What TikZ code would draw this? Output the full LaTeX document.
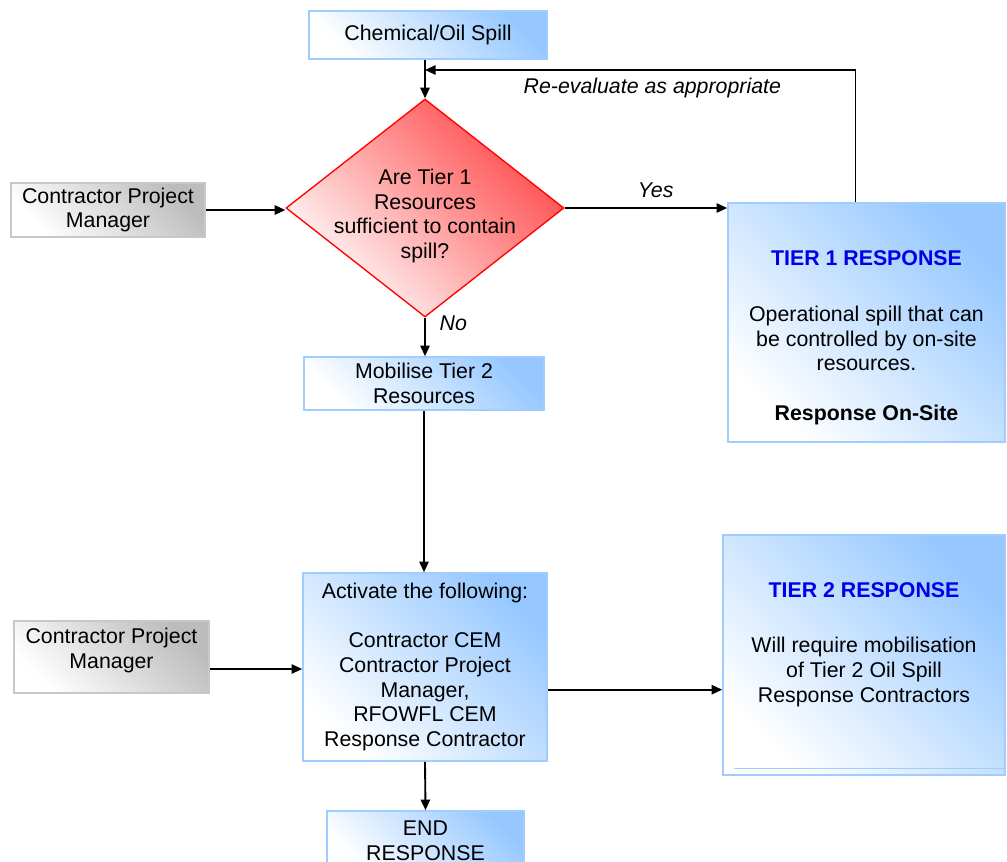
\documentclass[tikz,border=0pt]{standalone}
\usepackage{fontspec}
\setmainfont{Liberation Sans}
\usepackage{tikz}
\usetikzlibrary{positioning,arrows.meta,shapes.geometric}

\definecolor{boxblue}{RGB}{150,200,255}
\definecolor{boxedge}{RGB}{160,205,255}
\definecolor{boxgrey}{RGB}{188,188,188}
\definecolor{greyedge}{RGB}{200,200,200}
\definecolor{decred}{RGB}{255,70,70}
\definecolor{tierblue}{RGB}{0,0,230}

\begin{document}
\begin{tikzpicture}[
  x=0.75pt, y=-0.75pt,
  font=\fontsize{16pt}{18.4pt}\selectfont,
  bx/.style={draw=boxedge, line width=1.2pt, top color=boxblue, bottom color=white,
             shading angle=-45, align=center, inner sep=0pt},
  gbx/.style={draw=greyedge, line width=1.2pt, top color=boxgrey, bottom color=white,
              shading angle=-45, align=center, inner sep=0pt},
  dec/.style={diamond, aspect=1.275, draw=red, line width=1pt, top color=decred,
              bottom color=white, shading angle=-45, inner sep=0pt},
  lbl/.style={font=\fontsize{16pt}{18.4pt}\selectfont\itshape},
  arr/.style={->, line width=1.4pt},
  >={Triangle[length=8pt,width=7pt]}
]
\useasboundingbox (0,0) rectangle (1007,861);

\node[bx, minimum width=178.5pt, minimum height=36pt] (spill) at (428,35) {Chemical/Oil Spill};
\node[dec, minimum width=208.5pt, minimum height=163.5pt] (tierq) at (425,208) {};
\node[align=center] (tierqtxt) at ([yshift=-6pt]tierq.center)
  {Are Tier 1\\Resources\\sufficient to contain\\spill?};
\node[gbx, minimum width=145.5pt, minimum height=40.5pt] (cpmA) at (108,210) {Contractor Project\\Manager};

\node[bx, minimum width=207.75pt, minimum height=179.25pt] (tierone) at (866.5,322.5) {};
\node[align=center] (tieronetxt) at ([yshift=-11.5pt]tierone.center)
  {\textbf{\color{tierblue}TIER 1 RESPONSE}\\[24pt]
   Operational spill that can\\be controlled by on-site\\resources.\\[19pt]
   \textbf{Response On-Site}};

\node[bx, minimum width=180pt, minimum height=39.75pt] (mobilise) at (424,383.5) {Mobilise Tier 2\\Resources};
\node[bx, minimum width=183pt, minimum height=141pt] (activate) at (425,667)
  {Activate the following:\\[18.4pt]
   Contractor CEM\\Contractor Project\\Manager,\\RFOWFL CEM\\Response Contractor};

\node[gbx, minimum width=146.25pt, minimum height=54pt] (cpmB) at (111.5,657) {};
\node[align=center] (cpmBtxt) at ([yshift=5pt]cpmB.center) {Contractor Project\\Manager};

\node[bx, minimum width=211.5pt, minimum height=180pt] (tiertwo) at (864,655) {};
\node[align=center] (tiertwotxt) at ([yshift=8pt]tiertwo.center)
  {\textbf{\color{tierblue}TIER 2 RESPONSE}\\[23.5pt]
   Will require mobilisation\\of Tier 2 Oil Spill\\Response Contractors};
\draw[boxedge, line width=1pt] ([shift={(12,-7)}]tiertwo.south west) -- ([shift={(0,-7)}]tiertwo.south east);

\node[bx, minimum width=147.75pt, minimum height=45pt] (endresp) at (425.5,841) {END\\RESPONSE};

% main flow
\draw[arr] (spill.south -| tierq.north) -- (tierq.north);
\draw[arr] (cpmA.east) -- (cpmA.east -| tierq.west);
\draw[arr] (tierq.east) -- node[lbl, above, pos=0.56, yshift=4pt]{Yes} (tierq.east -| tierone.west);
\draw[arr] (tierq.south) -- node[lbl, right, pos=0.15, xshift=7pt]{No} (mobilise.north -| tierq.south);
\draw[arr] (mobilise.south) -- (mobilise.south |- activate.north);
\draw[arr] ([yshift=-9pt]cpmB.east) -- ([yshift=-9pt]cpmB.east -| activate.west);
\draw[arr] ([yshift=-17pt]activate.east) -- ([yshift=-17pt]activate.east -| tiertwo.west);
\draw[arr] (activate.south) -- (endresp.north);

% re-evaluate loop
\coordinate (merge) at (tierq.north |- 0,70);
\draw[arr] ([xshift=-8.25pt]tierone.north) |- node[lbl, pos=0.736, below, yshift=-2pt]{Re-evaluate as appropriate} (merge);
\end{tikzpicture}
\end{document}
